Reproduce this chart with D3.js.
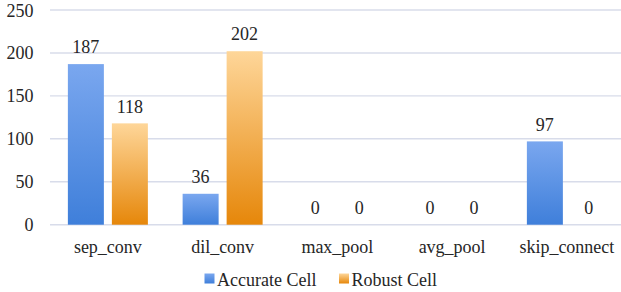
<!DOCTYPE html>
<html><head><meta charset="utf-8">
<script src="https://cdn.jsdelivr.net/npm/d3@7"></script>
<style>body{margin:0;background:#fff;}svg{display:block;}</style>
</head><body>
<script>
const categories = ["sep_conv","dil_conv","max_pool","avg_pool","skip_connect"];
const seriesNames = ["Accurate Cell","Robust Cell"];
const accurate = [187,36,0,0,97];
const robust = [118,202,0,0,0];
const yTicks = [0,50,100,150,200,250];

const W=621,H=292;
const FONT='"Liberation Serif", monospace';
const svg=d3.select("body").append("svg").attr("width",W).attr("height",H);
const defs=svg.append("defs");
const grads=[["gBlue","#7aa7ef","#3f7fda"],["gOrange","#fed699","#e6870a"]];
grads.forEach(([id,top,bot])=>{
  const g=defs.append("linearGradient").attr("id",id).attr("x1",0).attr("y1",0).attr("x2",0).attr("y2",1);
  g.append("stop").attr("offset","0%").attr("stop-color",top);
  g.append("stop").attr("offset","100%").attr("stop-color",bot);
});
const fills=["url(#gBlue)","url(#gOrange)"];

const y=d3.scaleLinear().domain([0,250]).range([224.7,10]);
const x0=d3.scaleBand().domain(categories).range([50.5,624.25]).paddingInner(0.3028).paddingOuter(0.1514);
const x1=d3.scaleBand().domain(seriesNames).range([0,x0.bandwidth()]).paddingInner(8/44).paddingOuter(0);

function txt(sel){ return sel.style("font-family",FONT).style("font-size","18px").attr("fill","#262626"); }

// grid
svg.append("g").selectAll("line").data(yTicks).join("line")
  .attr("x1",50).attr("x2",W).attr("y1",d=>y(d)).attr("y2",d=>y(d))
  .attr("stroke","#d8dcea").attr("stroke-width",1.4);

// y tick labels
txt(svg.append("g").selectAll("text").data(yTicks).join("text")
  .attr("x",33.5).attr("y",d=>y(d)+6.5).attr("text-anchor","end")).text(d=>d);

const data=categories.map((c,i)=>({c,vals:[accurate[i],robust[i]]}));
const grp=svg.append("g").selectAll("g").data(data).join("g")
  .attr("transform",d=>`translate(${x0(d.c)},0)`);
grp.selectAll("rect").data(d=>d.vals.map((v,k)=>({v,k}))).join("rect")
  .attr("x",d=>x1(seriesNames[d.k])).attr("width",x1.bandwidth())
  .attr("y",d=>y(d.v)).attr("height",d=>y(0)-y(d.v)).attr("fill",d=>fills[d.k]);
txt(grp.selectAll("text").data(d=>d.vals.map((v,k)=>({v,k}))).join("text")
  .attr("x",d=>x1(seriesNames[d.k])+x1.bandwidth()/2).attr("y",d=>y(d.v)-10.8)
  .attr("text-anchor","middle")).text(d=>d.v);

// category labels
txt(svg.append("g").selectAll("text").data(categories).join("text")
  .attr("x",d=>x0(d)+x0.bandwidth()/2).attr("y",252.5).attr("text-anchor","middle")).text(d=>d);

// legend
const legX=[204.5,339];
const lg=svg.append("g").selectAll("g").data(seriesNames).join("g")
  .attr("transform",(d,i)=>`translate(${legX[i]},0)`);
lg.append("rect").attr("x",0).attr("y",273.5).attr("width",10).attr("height",10).attr("fill",(d,i)=>fills[i]);
txt(lg.append("text").attr("x",12.5).attr("y",285.5)).text(d=>d);
</script>
</body></html>
